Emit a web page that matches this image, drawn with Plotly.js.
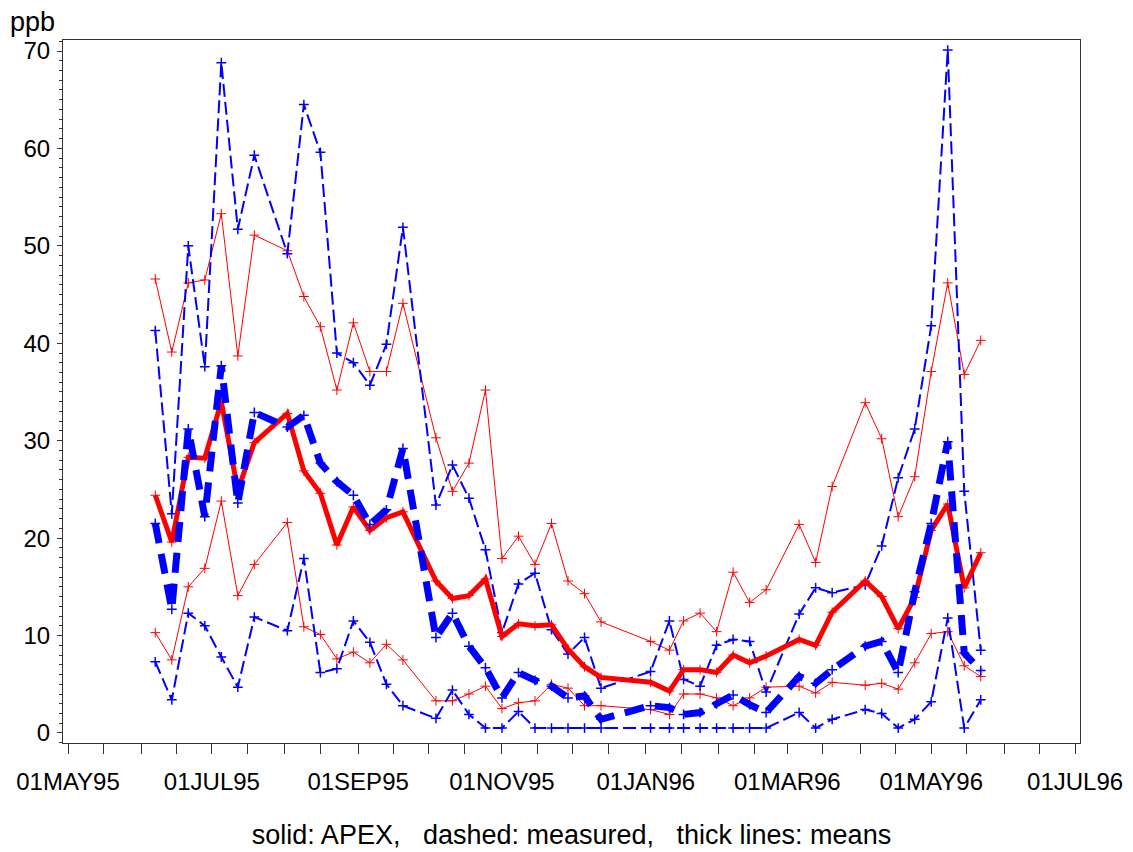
<!DOCTYPE html>
<html>
<head>
<meta charset="utf-8">
<script src="https://cdn.plot.ly/plotly-3.0.1.min.js"></script>
<style>
  html, body { margin: 0; padding: 0; background: #ffffff; }
  #chart { width: 1133px; height: 852px; }
</style>
</head>
<body>
<div id="chart"></div>
<script>
// Sampling dates (weekly, with some weeks missing)
const dates = [
  '1995-06-07','1995-06-14','1995-06-21','1995-06-28','1995-07-05','1995-07-12','1995-07-19',
  '1995-08-02','1995-08-09','1995-08-16','1995-08-23','1995-08-30','1995-09-06','1995-09-13',
  '1995-09-20','1995-10-04','1995-10-11','1995-10-18','1995-10-25','1995-11-01','1995-11-08',
  '1995-11-15','1995-11-22','1995-11-29','1995-12-06','1995-12-13','1996-01-03','1996-01-11',
  '1996-01-17','1996-01-24','1996-01-31','1996-02-07','1996-02-14','1996-02-21','1996-03-06',
  '1996-03-13','1996-03-20','1996-04-03','1996-04-10','1996-04-17','1996-04-24','1996-05-01',
  '1996-05-08','1996-05-15','1996-05-22'
];

// APEX (solid, red)
const apexMax = [46.6,39.1,46.2,46.5,53.3,38.7,51.1,49.5,44.8,41.7,35.2,42.1,37.1,37.1,44.1,
  30.3,24.8,27.7,35.2,17.9,20.2,17.3,21.5,15.6,14.3,11.4,9.4,8.5,11.5,12.3,10.4,16.5,13.4,14.7,
  21.4,17.5,25.3,33.9,30.2,22.2,26.3,37.1,46.2,36.8,40.3];
const apexMean = [24.4,19.6,28.3,28.2,34.0,24.9,29.8,32.8,26.9,24.6,19.3,23.2,20.8,22.1,22.7,
  15.6,13.8,14.1,15.8,9.9,11.2,11.0,11.1,8.6,6.8,5.7,5.2,4.3,6.5,6.5,6.2,8.0,7.2,7.9,
  9.6,9.0,12.4,15.6,14.0,10.7,13.9,20.8,23.5,14.9,18.5];
const apexMin = [10.3,7.5,15.0,16.9,23.8,14.1,17.3,21.6,10.9,10.1,7.6,8.3,7.2,9.1,7.5,
  3.3,3.3,4.0,4.8,2.5,3.1,3.3,5.0,4.6,2.8,2.8,2.4,1.9,4.0,4.0,3.6,2.8,3.6,4.7,
  4.8,4.1,5.2,4.9,5.1,4.5,7.2,10.2,10.4,6.9,5.8];

// Measured (dashed, blue)
const measMax = [41.3,22.5,50.0,37.6,68.8,51.7,59.3,49.2,64.5,59.6,39.0,38.0,35.7,39.9,51.9,
  23.4,27.5,24.1,18.8,10.3,15.3,16.4,10.6,8.1,9.8,4.6,6.3,11.5,5.5,4.8,9.0,9.6,9.4,4.2,
  12.2,14.9,14.4,15.2,19.2,26.2,31.2,41.8,70.1,24.8,8.5];
const measMean = [21.5,12.7,31.2,22.2,37.7,23.6,32.9,31.4,32.6,27.7,25.8,24.4,21.4,22.9,29.2,
  9.8,12.3,8.9,6.7,3.6,6.2,5.4,4.8,3.6,3.8,1.4,2.8,2.6,1.9,2.1,3.0,3.9,2.9,2.1,
  5.8,5.1,6.5,8.9,9.4,6.2,14.5,21.5,29.9,8.2,6.4];
const measMin = [7.3,3.4,12.3,11.0,7.8,4.7,11.9,10.5,17.9,6.2,6.6,11.5,9.3,5.0,2.8,
  1.5,4.4,1.9,0.5,0.5,2.2,0.5,0.5,0.5,0.5,0.5,0.5,0.5,0.5,0.5,0.5,0.5,0.5,0.5,
  2.1,0.5,1.4,2.4,2.0,0.5,1.4,3.2,11.8,0.5,3.4];

// Axis ticks
const xTickDates = ['1995-05-01','1995-05-16','1995-06-01','1995-06-16','1995-07-01','1995-07-16',
  '1995-08-01','1995-08-16','1995-09-01','1995-09-16','1995-10-01','1995-10-16','1995-11-01',
  '1995-11-16','1995-12-01','1995-12-16','1996-01-01','1996-01-16','1996-02-01','1996-02-16',
  '1996-03-01','1996-03-16','1996-04-01','1996-04-16','1996-05-01','1996-05-16','1996-06-01',
  '1996-06-16','1996-07-01'];
const xTickLabels = ['01MAY95','','','','01JUL95','','','','01SEP95','','','','01NOV95',
  '','','','01JAN96','','','','01MAR96','','','','01MAY96','','','','01JUL96'];
const yTickVals = [0,10,20,30,40,50,60,70];
const yTickLabels = ['0','10','20','30','40','50','60','70'];

const RED = '#ff0000', BLUE = '#0000ff';
function tr(y, color, width, dash, mw) {
  return {
    x: dates, y: y, type: 'scatter', mode: 'lines+markers',
    line: {color: color, width: width, dash: dash},
    marker: {symbol: 'cross-thin', size: 7, color: color, line: {color: color, width: mw}},
    hoverinfo: 'x+y', showlegend: false
  };
}

const data = [
  tr(apexMax, RED, 1, 'solid', 1),
  tr(apexMin, RED, 1, 'solid', 1),
  tr(measMax, BLUE, 2, '13px,5px', 1.5),
  tr(measMin, BLUE, 2, '13px,5px', 1.5),
  tr(apexMean, RED, 5, 'solid', 1),
  tr(measMean, BLUE, 7, '20px,11px', 1.5)
];

const FONT = '"Liberation Sans", Arial, Helvetica, sans-serif';
const layout = {
  width: 1133, height: 852,
  paper_bgcolor: '#ffffff', plot_bgcolor: '#ffffff',
  margin: {l: 63, r: 53, t: 40, b: 109},
  font: {family: FONT, color: '#000000', size: 24},
  showlegend: false,
  xaxis: {
    type: 'date',
    range: ['1995-04-28 21:00', '1996-07-03 02:00'],
    tickmode: 'array', tickvals: xTickDates, ticktext: xTickLabels,
    ticks: 'outside', ticklen: 10, tickwidth: 1, tickcolor: '#333333',
    ticklabelstandoff: 7,
    showline: true, linecolor: '#333333', linewidth: 1, mirror: true,
    showgrid: false, zeroline: false,
    tickfont: {family: FONT, size: 24, color: '#000000'},
    title: {text: 'solid: APEX,   dashed: measured,   thick lines: means',
            font: {family: FONT, size: 27, color: '#000000'}, standoff: 31}
  },
  yaxis: {
    range: [-1.03, 71.13],
    tickmode: 'array', tickvals: yTickVals, ticktext: yTickLabels,
    ticks: 'outside', ticklen: 5, tickwidth: 1, tickcolor: '#333333',
    ticklabelstandoff: 2,
    minor: {dtick: 1, tick0: 0, ticks: 'outside', ticklen: 3, tickcolor: '#333333', showgrid: false},
    showline: true, linecolor: '#333333', linewidth: 1, mirror: true,
    showgrid: false, zeroline: false,
    tickfont: {family: FONT, size: 24, color: '#000000'}
  },
  annotations: [{
    text: 'ppb', xref: 'paper', yref: 'paper',
    x: -0.054, y: 1.025, xanchor: 'left', yanchor: 'middle',
    showarrow: false, font: {family: FONT, size: 27, color: '#000000'}
  }]
};

Plotly.newPlot('chart', data, layout, {displayModeBar: false, staticPlot: true});
</script>
</body>
</html>
